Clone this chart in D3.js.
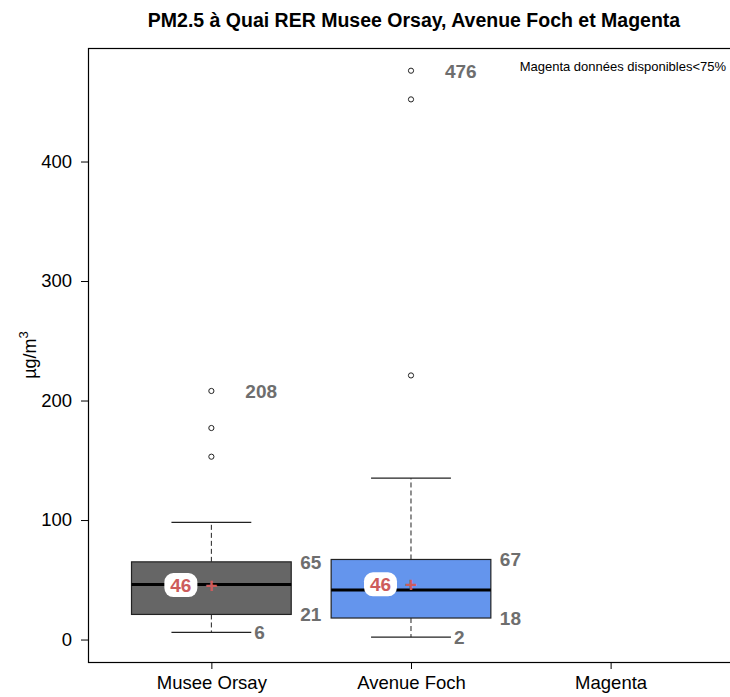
<!DOCTYPE html>
<html>
<head>
<meta charset="utf-8">
<script src="https://cdn.jsdelivr.net/npm/d3@7"></script>
<style>
  body { margin: 0; background: #fff; }
  text { font-family: "Liberation Sans", Arial, sans-serif; }
</style>
</head>
<body>
<svg id="chart"></svg>
<script>
// stations and box statistics (µg/m3)
const stations = ["Musee Orsay", "Avenue Foch", "Magenta"];
const whiskLow = [6, 2, null];
const q1 = [21, 18, null];
const medians = [46, 41.5, null];
const q3 = [65, 67, null];
const whiskHigh = [98, 135, null];
const means = [45.6, 46.2, null];
const outliers = [[208, 177, 153], [476, 452, 221], []];
const yTicks = [0, 100, 200, 300, 400];

const boxFills = ["#666666", "#6495ED", "#ffffff"];
const labelGrey = "#6e6e6e";
const meanRed = "#cd5c5c";

const width = 730, height = 697;
const margin = { top: 48, right: -1, bottom: 35, left: 88 };

const svg = d3.select("#chart")
    .attr("width", width)
    .attr("height", height);

const x = d3.scaleLinear()
    .domain([0.382, 3.603])
    .range([margin.left, width - margin.right]);

const y = d3.scaleLinear()
    .domain([-18.8, 495])
    .range([height - margin.bottom, margin.top]);

const unit = x(1) - x(0);
const boxHalf = 0.4 * unit, capHalf = 0.2 * unit;

// title
svg.append("text")
    .attr("x", 414)
    .attr("y", 27)
    .attr("text-anchor", "middle")
    .style("font-size", "19.5px")
    .style("font-weight", "bold")
    .text("PM2.5 à Quai RER Musee Orsay, Avenue Foch et Magenta");

// note top-right
svg.append("text")
    .attr("x", 726)
    .attr("y", 71)
    .attr("text-anchor", "end")
    .style("font-size", "13px")
    .text("Magenta données disponibles<75%");

// axes
const yAxis = svg.append("g")
    .attr("transform", `translate(${margin.left},0)`)
    .call(d3.axisLeft(y).tickValues(yTicks).tickSize(7).tickPadding(9).tickFormat(d3.format("d")));
yAxis.select(".domain").remove();
yAxis.selectAll("text").style("font-size", "18.5px").attr("fill", "#000");

const xAxis = svg.append("g")
    .attr("transform", `translate(0,${height - margin.bottom})`)
    .call(d3.axisBottom(x).tickValues([1, 2, 3]).tickSize(7).tickPadding(7)
        .tickFormat(i => stations[i - 1]));
xAxis.select(".domain").remove();
xAxis.selectAll("text").style("font-size", "18.5px").attr("fill", "#000");

// frame
svg.append("rect")
    .attr("x", margin.left + 0.5)
    .attr("y", margin.top + 0.5)
    .attr("width", width - margin.right - margin.left)
    .attr("height", height - margin.bottom - margin.top)
    .attr("fill", "none")
    .attr("stroke", "#000")
    .attr("stroke-width", 1.2);

// y label
const yl = svg.append("text")
    .attr("transform", `translate(36,${(margin.top + height - margin.bottom) / 2}) rotate(-90)`)
    .attr("text-anchor", "middle")
    .style("font-size", "18px");
yl.append("tspan").text("µg/m");
yl.append("tspan").attr("dy", -8).style("font-size", "13px").text("3");

const plot = svg.append("g");

stations.forEach((s, i) => {
  if (q1[i] == null) return;
  const cx = x(i + 1);

  // whiskers
  [[q3[i], whiskHigh[i]], [q1[i], whiskLow[i]]].forEach(([a, b]) => {
    plot.append("line")
        .attr("x1", cx).attr("x2", cx)
        .attr("y1", y(a)).attr("y2", y(b))
        .attr("stroke", "#222").attr("stroke-dasharray", "5,3");
    plot.append("line")
        .attr("x1", cx - capHalf).attr("x2", cx + capHalf)
        .attr("y1", y(b)).attr("y2", y(b))
        .attr("stroke", "#222").attr("stroke-width", 1.2);
  });

  // box
  plot.append("rect")
      .attr("x", cx - boxHalf)
      .attr("y", y(q3[i]))
      .attr("width", boxHalf * 2)
      .attr("height", y(q1[i]) - y(q3[i]))
      .attr("fill", boxFills[i])
      .attr("stroke", "#222")
      .attr("stroke-width", 1.2);

  plot.append("line")
      .attr("x1", cx - boxHalf).attr("x2", cx + boxHalf)
      .attr("y1", y(medians[i])).attr("y2", y(medians[i]))
      .attr("stroke", "#000").attr("stroke-width", 3);

  // outliers
  plot.selectAll(null)
      .data(outliers[i])
      .join("circle")
      .attr("cx", cx)
      .attr("cy", d => y(d))
      .attr("r", 2.6)
      .attr("fill", "none")
      .attr("stroke", "#222")
      .attr("stroke-width", 1);

  // value labels
  const lab = (tx, ty, txt) => plot.append("text")
      .attr("x", tx).attr("y", ty)
      .attr("dy", "0.36em")
      .attr("fill", labelGrey)
      .style("font-size", "19px")
      .style("font-weight", "bold")
      .text(txt);
  lab(cx + boxHalf + 9, y(q3[i]), q3[i]);
  lab(cx + boxHalf + 9, y(q1[i]), q1[i]);
  lab(cx + capHalf + 3, y(whiskLow[i]), whiskLow[i]);
  if (outliers[i].length) {
    const mx = d3.max(outliers[i]);
    lab(cx + 34, y(mx), mx);
  }

  // mean
  const my = y(means[i]);
  plot.append("rect")
      .attr("x", cx - 47).attr("y", my - 12)
      .attr("width", 33).attr("height", 24)
      .attr("rx", 9)
      .attr("fill", "#fff");
  plot.append("text")
      .attr("x", cx - 30.5).attr("y", my)
      .attr("dy", "0.36em")
      .attr("text-anchor", "middle")
      .attr("fill", meanRed)
      .style("font-size", "19px")
      .style("font-weight", "bold")
      .text(Math.round(means[i]));
  plot.append("text")
      .attr("x", cx).attr("y", my)
      .attr("dy", "0.36em")
      .attr("text-anchor", "middle")
      .attr("fill", meanRed)
      .style("font-size", "21px")
      .style("font-weight", "bold")
      .text("+");
});
</script>
</body>
</html>
